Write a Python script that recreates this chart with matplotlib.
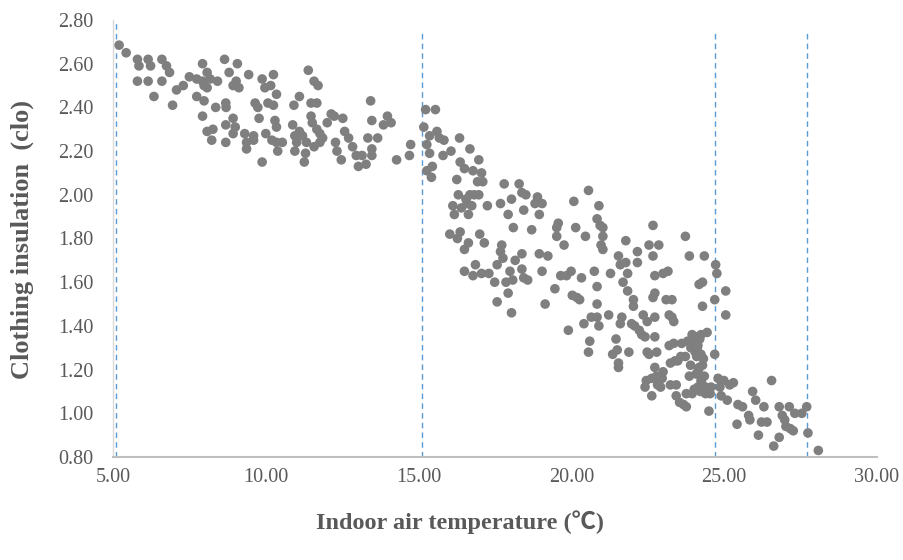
import matplotlib
matplotlib.use("Agg")
import matplotlib.pyplot as plt

# Indoor air temperature (°C)
temp = [
    5.20, 5.43, 5.80, 5.85, 5.80, 6.15, 6.23, 6.15, 6.34, 6.60, 6.75, 6.85, 6.60, 6.95, 7.08, 7.30,
    7.50, 7.74, 7.74, 7.93, 7.93, 7.98, 7.98, 8.08, 8.18, 8.08, 7.93, 8.08, 8.27, 8.23, 8.36, 8.42,
    8.65, 8.69, 8.70, 8.69, 8.69, 8.80, 8.93, 9.03, 9.07, 9.12, 8.93, 8.93, 9.00, 9.31, 9.37, 9.37,
    9.44, 9.60, 9.60, 9.65, 9.74, 9.78, 9.88, 9.88, 9.97, 10.00, 10.07, 10.16, 10.25, 10.25, 10.30,
    10.20, 10.35, 10.35, 10.35, 10.39, 10.54, 10.92, 10.88, 10.95, 11.01, 10.95, 11.10, 11.10, 11.20,
    11.26, 11.30, 11.33, 11.39, 11.48, 11.48, 11.52, 11.58, 11.58, 11.67, 11.71, 11.67, 11.77, 11.77,
    11.86, 12.01, 12.14, 12.24, 12.28, 12.33, 12.47, 12.52, 12.58, 12.71, 12.84, 12.96, 13.03, 13.15,
    13.28, 13.34, 13.43, 13.47, 13.47, 13.47, 13.66, 13.85, 13.98, 14.10, 14.28, 14.70, 14.74,
    15.23, 15.55, 15.17, 15.27, 15.36, 15.36, 15.27, 15.42, 15.45, 15.60, 15.68, 15.83, 15.80, 16.06,
    16.34, 16.36, 16.25, 16.30, 16.50, 16.68, 16.78, 16.97, 17.06, 16.93, 17.10, 16.12, 16.17, 16.40,
    16.55, 16.59, 16.68, 16.74, 16.63, 16.82, 16.97, 17.25, 16.02, 16.36, 16.27, 16.50, 16.63, 17.00,
    17.15, 16.86, 16.50, 16.78, 17.06, 17.30, 17.49, 17.57, 17.57, 17.68, 17.72, 17.76, 17.68, 17.80,
    17.93, 17.99, 17.86, 17.93, 18.04, 18.08, 18.10, 18.16, 18.04, 18.29, 18.38, 18.51, 18.44, 18.38,
    18.38, 18.44, 18.57, 18.70, 18.81, 18.89, 18.95, 19.04, 18.95, 19.04, 19.14, 19.23,
    19.46, 19.52, 19.52, 19.57, 19.76, 19.65, 19.84, 19.90, 19.99, 20.03, 20.08, 20.14, 20.18, 20.27,
    20.33, 20.46, 20.41, 20.56, 20.60, 20.56, 20.65, 20.75, 20.84, 20.84, 20.84, 20.90, 20.84, 20.90,
    20.94, 21.03, 21.03, 20.97, 21.03, 21.22, 21.28, 21.35, 21.46, 21.50, 21.54, 21.54, 21.54, 21.60,
    21.60, 21.65, 21.69, 21.78, 21.78, 21.84, 21.84, 21.88, 21.97, 22.03, 22.03, 22.07, 22.16, 22.16,
    22.22, 22.30, 22.35, 22.41, 22.41, 22.45, 22.48, 22.54, 22.48, 22.54, 22.63, 22.67, 22.63, 22.67,
    22.67, 22.73, 22.73, 22.73, 22.73, 22.79, 22.73, 22.79, 22.82, 22.92, 22.86, 23.00, 23.00, 22.97,
    23.10, 23.16, 23.20, 23.20, 23.24, 23.24, 23.29, 23.29, 23.35, 23.35, 23.39, 23.43, 23.43, 23.48,
    23.54, 23.58, 23.61, 23.67, 23.73, 23.73, 23.76, 23.76, 23.80, 23.86, 23.86, 23.91, 23.95, 23.95,
    23.99, 24.05, 24.05, 24.10, 24.10, 24.14, 24.14, 24.18, 24.18, 24.24, 24.24, 24.24, 24.29, 24.29,
    24.29, 24.35, 24.35, 24.39, 24.39, 24.44, 24.50, 24.54, 24.57, 24.72, 24.76, 24.69, 24.69, 24.80,
    24.86, 24.90, 24.99, 25.05, 25.05, 25.10, 25.18, 25.30, 25.42, 25.45, 25.60, 25.80, 25.84, 25.93,
    26.03, 26.12, 26.22, 26.30, 26.40, 26.55, 26.62, 26.80, 26.80, 26.90, 26.98, 27.02, 27.13, 27.16,
    27.26, 27.31, 27.54, 27.70, 27.74, 28.08,
    24.00, 24.12, 24.20, 24.08, 24.16, 24.26, 24.22, 24.32, 23.90, 24.02,
]

# Clothing insulation (clo)
clo = [
    2.685, 2.65, 2.62, 2.59, 2.52, 2.62, 2.59, 2.52, 2.45, 2.62, 2.59, 2.56, 2.52, 2.41, 2.48, 2.50,
    2.54, 2.53, 2.45, 2.60, 2.52, 2.50, 2.43, 2.56, 2.53, 2.49, 2.36, 2.29, 2.30, 2.25, 2.40, 2.52,
    2.62, 2.42, 2.40, 2.32, 2.24, 2.56, 2.50, 2.52, 2.60, 2.49, 2.35, 2.28, 2.31, 2.28, 2.24, 2.21,
    2.55, 2.25, 2.27, 2.42, 2.40, 2.35, 2.53, 2.15, 2.49, 2.28, 2.42, 2.50, 2.55, 2.41, 2.34,
    2.25, 2.46, 2.31, 2.24, 2.20, 2.24, 2.41, 2.32, 2.27, 2.24, 2.20, 2.45, 2.29, 2.27,
    2.15, 2.19, 2.24, 2.57, 2.42, 2.36, 2.33, 2.52, 2.22, 2.42, 2.50, 2.30, 2.28, 2.24,
    2.26, 2.33, 2.37, 2.36, 2.24, 2.20, 2.16, 2.35, 2.29, 2.26, 2.22, 2.18, 2.13, 2.18,
    2.14, 2.26, 2.43, 2.34, 2.21, 2.18, 2.26, 2.32, 2.36, 2.33, 2.16, 2.18, 2.23,
    2.39, 2.39, 2.31, 2.23, 2.27, 2.19, 2.11, 2.08, 2.13, 2.29, 2.26, 2.25, 2.18, 2.20,
    2.26, 2.15, 2.07, 2.00, 2.12, 2.21, 2.11, 2.16, 2.10, 2.06, 2.06, 1.95, 1.91, 1.94,
    1.98, 1.96, 2.00, 1.95, 1.91, 2.00, 2.00, 1.95, 1.82, 1.83, 1.80, 1.75, 1.78, 1.82,
    1.78, 1.68, 1.65, 1.63, 1.64, 1.64, 1.60, 1.51, 1.68, 1.74, 1.77, 1.71, 1.96, 2.05,
    1.91, 1.65, 1.60, 1.55, 1.46, 1.61, 1.85, 1.70, 1.98, 2.05, 2.01, 2.00, 1.93, 1.73,
    1.66, 1.62, 1.61, 1.84, 1.96, 1.99, 1.91, 1.96, 1.73, 1.65, 1.50, 1.72,
    1.57, 1.81, 1.85, 1.87, 1.77, 1.63, 1.63, 1.38, 1.65, 1.54, 1.97, 1.85, 1.53, 1.52,
    1.62, 1.81, 1.41, 2.02, 1.33, 1.28, 1.44, 1.65, 1.58, 1.50, 1.44, 1.40, 1.89, 1.95,
    1.86, 1.85, 1.81, 1.77, 1.75, 1.45, 1.64, 1.27, 1.34, 1.29, 1.23, 1.21, 1.72, 1.68,
    1.41, 1.44, 1.60, 1.79, 1.69, 1.64, 1.56, 1.28, 1.41, 1.52, 1.49, 1.40, 1.74, 1.69,
    1.38, 1.36, 1.45, 1.35, 1.12, 1.15, 1.42, 1.77, 1.28, 1.27, 1.16, 1.53, 1.08, 1.86,
    1.72, 1.63, 1.55, 1.44, 1.35, 1.28, 1.21, 1.17, 1.13, 1.12, 1.77, 1.64, 1.19, 1.16,
    1.52, 1.65, 1.45, 1.31, 1.23, 1.13, 1.44, 1.52, 1.42, 1.32, 1.24, 1.13, 1.08, 1.24,
    1.05, 1.26, 1.32, 1.04, 1.81, 1.26, 1.09, 1.03, 1.33, 1.17, 1.72, 1.30, 1.09, 1.36,
    1.32, 1.33, 1.28, 1.35, 1.26, 1.31, 1.12, 1.59, 1.21, 1.36, 1.27, 1.15, 1.60, 1.49,
    1.22, 1.72, 1.17, 1.12, 1.09, 1.37, 1.01, 1.09, 1.12, 1.68, 1.64, 1.52, 1.27, 1.16,
    1.12, 1.08, 1.15, 1.56, 1.45, 1.06, 1.13, 1.14, 0.95, 1.04, 1.03, 0.99, 0.97, 1.10,
    1.06, 0.90, 0.96, 1.03, 0.96, 1.15, 0.85, 1.03, 0.89, 0.99, 0.97, 0.94, 1.03, 0.93,
    0.92, 1.00, 1.00, 1.03, 0.91, 0.83,
    1.30, 1.29, 1.34, 1.18, 1.20, 1.14, 1.10, 1.25, 1.22, 1.11,
]

# Dashed reference lines (temperature positions) and their top ends (clo)
ref_temp = [5.1, 15.1, 24.7, 27.7]
ref_top = [2.80, 2.75, 2.75, 2.75]

x_ticks = [5, 10, 15, 20, 25, 30]
y_ticks = [0.8, 1.0, 1.2, 1.4, 1.6, 1.8, 2.0, 2.2, 2.4, 2.6, 2.8]

fonts = ['Liberation Serif', 'Noto Sans CJK SC', 'DejaVu Sans']
plt.rcParams['font.family'] = fonts

fig = plt.figure(figsize=(9.04, 5.6), dpi=100)
ax = fig.add_axes([113 / 904, 1 - 457 / 560, 764 / 904, 437 / 560])

for xv, top in zip(ref_temp, ref_top):
    ax.plot([xv, xv], [0.8, top], color='#5b9bd5', lw=1.0, ls=(0, (4, 3)), zorder=1)

ax.scatter(temp, clo, s=48, color='#7f7f7f', edgecolors='none', zorder=3)

ax.set_xlim(5, 30)
ax.set_ylim(0.8, 2.8)
ax.set_xticks(x_ticks)
ax.set_xticklabels([f"{v:.2f}" for v in x_ticks])
ax.set_yticks(y_ticks)
ax.set_yticklabels([f"{v:.2f}" for v in y_ticks])
ax.tick_params(axis='both', length=0, labelsize=14.5, colors='#595959')
ax.tick_params(axis='y', pad=14)
ax.tick_params(axis='x', pad=8)

for side in ['top', 'right']:
    ax.spines[side].set_visible(False)
ax.spines['left'].set_color('#d9d9d9')
ax.spines['left'].set_linewidth(1.0)
ax.spines['bottom'].set_color('#bfbfbf')
ax.spines['bottom'].set_linewidth(1.5)

ax.set_xlabel('Indoor air temperature (℃)', fontsize=17.5, fontweight='bold', color='#595959')
ax.xaxis.set_label_coords(0.454, -0.149)
ax.xaxis.label.set_va('center')
ax.set_ylabel('Clothing insulation  (clo)', fontsize=19, fontweight='bold', color='#595959')
ax.yaxis.set_label_coords(-0.119, 0.497)
ax.yaxis.label.set_va('center')

fig.savefig('out.png', dpi=100)
